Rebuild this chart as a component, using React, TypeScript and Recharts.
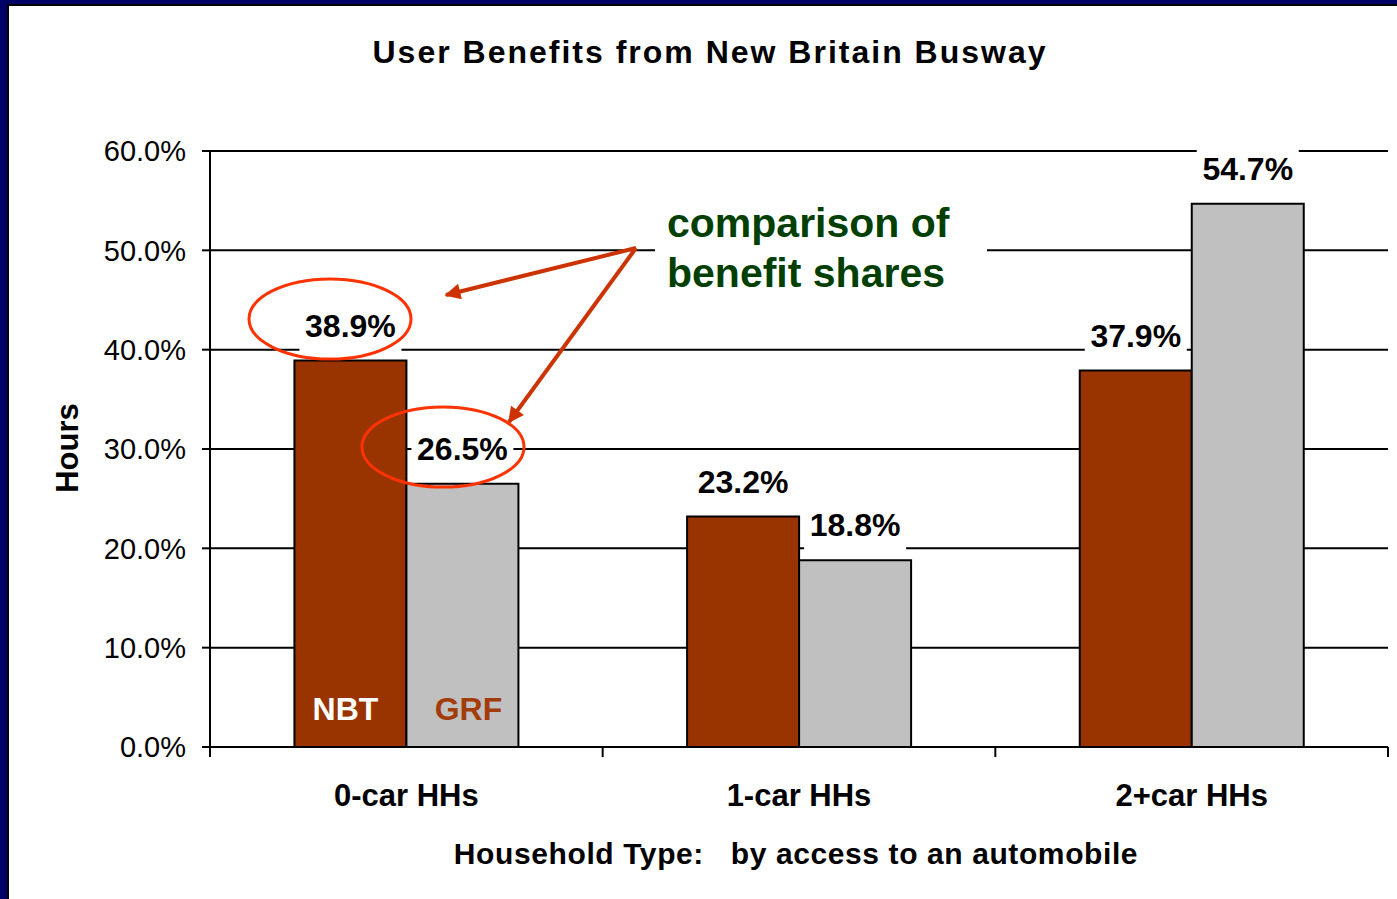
import { BarChart, Bar, XAxis, YAxis, CartesianGrid, LabelList } from 'recharts'

const categories = ['0-car HHs', '1-car HHs', '2+car HHs']
const nbtShares = [38.9, 23.2, 37.9]
const grfShares = [26.5, 18.8, 54.7]
const yTicks = [0, 10, 20, 30, 40, 50, 60]

const data = categories.map((name, i) => ({ name, NBT: nbtShares[i], GRF: grfShares[i] }))

const W = 1397
const H = 899
const FONT = '"Liberation Sans", Arial, sans-serif'
const margin = { top: 151, right: 9, bottom: 92, left: 100 }
const plotWidth = W - margin.left - 110 - margin.right
const band = plotWidth / categories.length

const ValueLabel = (props: any) => {
  const { x, y, width, value } = props
  const cx = Number(x) + Number(width) / 2
  const cy = Number(y) - 35
  return (
    <g>
      <rect x={cx - 51} y={cy - 20} width={102} height={46} fill="#fff" />
      <text x={cx} y={cy + 11} textAnchor="middle" fontSize={32} fontWeight="bold" fontFamily={FONT} fill="#000">
        {Number(value).toFixed(1)}%
      </text>
    </g>
  )
}

const seriesTag = (label: string, color: string, shift: number) => (props: any) => {
  const { x, y, width, height, index } = props
  if (index !== 0) return null
  const cx = Number(x) + Number(width) / 2 + shift
  return (
    <text x={cx} y={Number(y) + Number(height) - 27} textAnchor="middle" fontSize={32} fontWeight="bold" fontFamily={FONT} fill={color}>
      {label}
    </text>
  )
}

const CategoryTick = (props: any) => {
  const { x, y, payload, index } = props
  const half = payload?.offset ?? band / 2
  const left = x - half
  return (
    <g>
      <line x1={left} y1={y} x2={left} y2={y + 10} stroke="#000" strokeWidth={2} />
      {index === categories.length - 1 && (
        <line x1={x + half} y1={y} x2={x + half} y2={y + 10} stroke="#000" strokeWidth={2} />
      )}
      <text x={x} y={y + 59} textAnchor="middle" fontSize={31} fontWeight="bold" fontFamily={FONT} fill="#000">
        {payload.value}
      </text>
    </g>
  )
}

export default function App() {
  return (
    <div style={{ position: 'absolute', left: 0, top: 0, width: W, height: H, background: '#fff', overflow: 'hidden' }}>
      <BarChart width={W} height={H} data={data} margin={margin} barCategoryGap="21.5%" barGap={0}>
        <CartesianGrid vertical={false} stroke="#000" strokeWidth={2} />
        <XAxis
          dataKey="name"
          height={60}
          tickSize={0}
          tickMargin={0}
          axisLine={{ stroke: '#000', strokeWidth: 2 }}
          tickLine={false}
          tick={<CategoryTick />}
        />
        <XAxis xAxisId="top" dataKey="name" orientation="top" height={0} tick={false} tickLine={false} axisLine={{ stroke: '#808080', strokeWidth: 2.5 }} />
        <YAxis
          width={110}
          domain={[0, 60]}
          ticks={yTicks}
          tickSize={8}
          tickMargin={16}
          tickFormatter={(v: number) => `${v.toFixed(1)}%`}
          tick={{ fontSize: 29, fill: '#000', fontFamily: FONT }}
          axisLine={{ stroke: '#000', strokeWidth: 2 }}
          tickLine={{ stroke: '#000', strokeWidth: 2 }}
        />
        <YAxis yAxisId="right" orientation="right" width={0} domain={[0, 60]} tick={false} tickLine={false} axisLine={{ stroke: '#808080', strokeWidth: 2.5 }} />
        <Bar dataKey="NBT" fill="#993300" stroke="#000" strokeWidth={2} isAnimationActive={false}>
          <LabelList dataKey="NBT" content={ValueLabel} />
          <LabelList dataKey="NBT" content={seriesTag('NBT', '#fff', -5)} />
        </Bar>
        <Bar dataKey="GRF" fill="#C0C0C0" stroke="#000" strokeWidth={2} isAnimationActive={false}>
          <LabelList dataKey="GRF" content={ValueLabel} />
          <LabelList dataKey="GRF" content={seriesTag('GRF', '#a23c0a', 6)} />
        </Bar>
      </BarChart>

      <svg width={W} height={H} style={{ position: 'absolute', left: 0, top: 0, pointerEvents: 'none' }}>
        <defs>
          <marker id="head" viewBox="0 0 10 10" refX="9" refY="5" markerWidth="5" markerHeight="4" orient="auto" markerUnits="strokeWidth">
            <path d="M0,0 L10,5 L0,10 z" fill="#cc3300" />
          </marker>
        </defs>
        <rect x={0} y={0} width={W} height={4} fill="#000066" />
        <rect x={0} y={4} width={W} height={2} fill="#000" />
        <rect x={0} y={0} width={7} height={H} fill="#000066" />
        <rect x={7} y={4} width={2} height={H} fill="#000" />

        <text x={710} y={63} textAnchor="middle" fontSize={32} fontWeight="bold" letterSpacing={2} fontFamily={FONT}>
          User Benefits from New Britain Busway
        </text>
        <text x={78} y={448} textAnchor="middle" fontSize={31} fontWeight="bold" fontFamily={FONT} transform="rotate(-90 78 448)">
          Hours
        </text>
        <text x={796} y={864} textAnchor="middle" fontSize={30} fontWeight="bold" letterSpacing={0.6} fontFamily={FONT} style={{ whiteSpace: 'pre' }}>
          {'Household Type:   by access to an automobile'}
        </text>

        <rect x={655} y={195} width={332} height={105} fill="#fff" />
        <text x={667} y={237} fontSize={41} fontWeight="bold" fontFamily={FONT} fill="#003f00">comparison of</text>
        <text x={667} y={287} fontSize={41} fontWeight="bold" fontFamily={FONT} fill="#003f00">benefit shares</text>

        <line x1={636} y1={248} x2={446} y2={295} stroke="#cc3300" strokeWidth={4} markerEnd="url(#head)" />
        <line x1={636} y1={248} x2={509} y2={422} stroke="#cc3300" strokeWidth={4} markerEnd="url(#head)" />

        <ellipse cx={330} cy={319} rx={81} ry={40} fill="none" stroke="#ff3300" strokeWidth={3} />
        <ellipse cx={443} cy={447} rx={81} ry={40} fill="none" stroke="#ff3300" strokeWidth={3} />
      </svg>
    </div>
  )
}
